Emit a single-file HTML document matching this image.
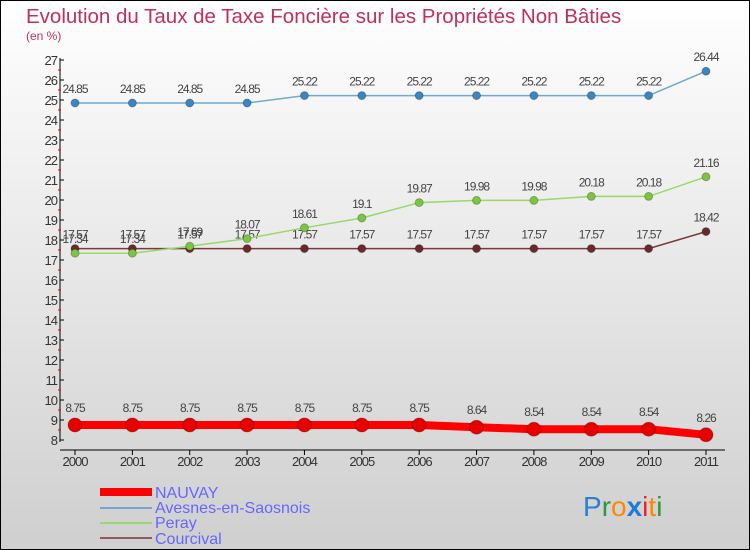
<!DOCTYPE html>
<html><head><meta charset="utf-8"><style>
body{margin:0}
svg{display:block;font-family:"Liberation Sans","DejaVu Sans",sans-serif}
</style></head><body>
<svg id="c" width="750" height="550">
<defs><linearGradient id="bg" x1="0" y1="0" x2="0" y2="1"><stop offset="0" stop-color="#ffffff"/><stop offset="1" stop-color="#cfcfcf"/></linearGradient></defs>
<rect x="0.5" y="0.5" width="749" height="549" fill="url(#bg)" stroke="#000"/>
<text x="26" y="23" font-size="20.5" fill="#c0305a">Evolution du Taux de Taxe Foncière sur les Propriétés Non Bâties</text>
<text x="26" y="40" font-size="12" fill="#c0305a">(en %)</text>
<g id="axes"></g><g id="series"></g>
<g>
<rect x="100" y="488" width="52" height="8" fill="#ff0000"/>
<text x="155" y="498" font-size="16" fill="#6666ff">NAUVAY</text>
<rect x="100" y="507" width="52" height="2" fill="#6fa9d2"/>
<text x="155" y="513" font-size="16" fill="#6666ff">Avesnes-en-Saosnois</text>
<rect x="100" y="522" width="52" height="2" fill="#99d86a"/>
<text x="155" y="528" font-size="16" fill="#6666ff">Peray</text>
<rect x="100" y="537" width="52" height="2" fill="#8f5a5a"/>
<text x="155" y="544" font-size="16" fill="#6666ff">Courcival</text>
</g>
<text x="583" y="516" font-size="28"><tspan fill="#2a7fd4">P</tspan><tspan fill="#2a9a3a">r</tspan><tspan fill="#ff8800">o</tspan><tspan fill="#1f7ad8" font-weight="bold">x</tspan><tspan fill="#ee2222">i</tspan><tspan fill="#ff8800">t</tspan><tspan fill="#2a9a3a">i</tspan></text>
</svg>
<script>
const years=["2000","2001","2002","2003","2004","2005","2006","2007","2008","2009","2010","2011"];
const yTicks=[8,9,10,11,12,13,14,15,16,17,18,19,20,21,22,23,24,25,26,27];
const nauvay=[8.75,8.75,8.75,8.75,8.75,8.75,8.75,8.64,8.54,8.54,8.54,8.26];
const avesnes=[24.85,24.85,24.85,24.85,25.22,25.22,25.22,25.22,25.22,25.22,25.22,26.44];
const peray=[17.34,17.34,17.69,18.07,18.61,19.1,19.87,19.98,19.98,20.18,20.18,21.16];
const courcival=[17.57,17.57,17.57,17.57,17.57,17.57,17.57,17.57,17.57,17.57,17.57,18.42];
const NS="http://www.w3.org/2000/svg";
const xS=i=>75+i*(706-75)/11;
const yS=v=>440-(v-8)*20;
function mk(t,a,p){const e=document.createElementNS(NS,t);for(const k in a)e.setAttribute(k,a[k]);p.appendChild(e);return e;}
const ax=document.getElementById('axes');
const yl=mk('line',{x1:60,y1:58,x2:60,y2:442,stroke:'#000'},ax);


const xl=mk('line',{x1:60,y1:450,x2:725,y2:450,stroke:'#000'},ax);


yTicks.forEach(v=>{
 mk('line',{x1:60,y1:yS(v),x2:64,y2:yS(v),stroke:'#000'},ax);
 if(v<27)mk('line',{x1:58,y1:yS(v+0.5),x2:61,y2:yS(v+0.5),stroke:'#e00'},ax);
 const t=mk('text',{x:57,y:yS(v)+5,'font-size':13,'text-anchor':'end',fill:'#333','letter-spacing':'-1'},ax);
 t.textContent=v;
 
 
});
years.forEach((y,i)=>{
 mk('line',{x1:xS(i),y1:450,x2:xS(i),y2:455,stroke:'#000'},ax);
 const t=mk('text',{x:xS(i),y:466,'font-size':13,'text-anchor':'middle',fill:'#333','letter-spacing':'-1'},ax);
 t.textContent=y;
 
 
});
const sg=document.getElementById('series');
function series(name,vals,color,dot,w,r){
 const g=mk('g',{},sg);
 
 
 const pts=vals.map((v,i)=>xS(i)+','+yS(v)).join(' ');
 const l=mk('polyline',{points:pts,fill:'none',stroke:color,'stroke-width':w},g);
 
 
 vals.forEach((v,i)=>{
  const c=mk('circle',{cx:xS(i),cy:yS(v),r:r,fill:dot,stroke:'rgba(0,0,0,0.25)','stroke-width':1},g);
  
  
  const t=mk('text',{x:xS(i),y:yS(v)-(r+6),'font-size':12,'text-anchor':'middle',fill:'#444','letter-spacing':'-1'},g);
  t.textContent=v;
  
  
 });
}
series('avesnes',avesnes,'#6fa9d2','#3a85c4',1.5,4);
series('courcival',courcival,'#7a3a3a','#6a2a2a',1.5,4);
series('peray',peray,'#99d86a','#7ac640',1.5,4);
series('nauvay',nauvay,'#ff0000','#e80000',8,7);
</script>
</body></html>
